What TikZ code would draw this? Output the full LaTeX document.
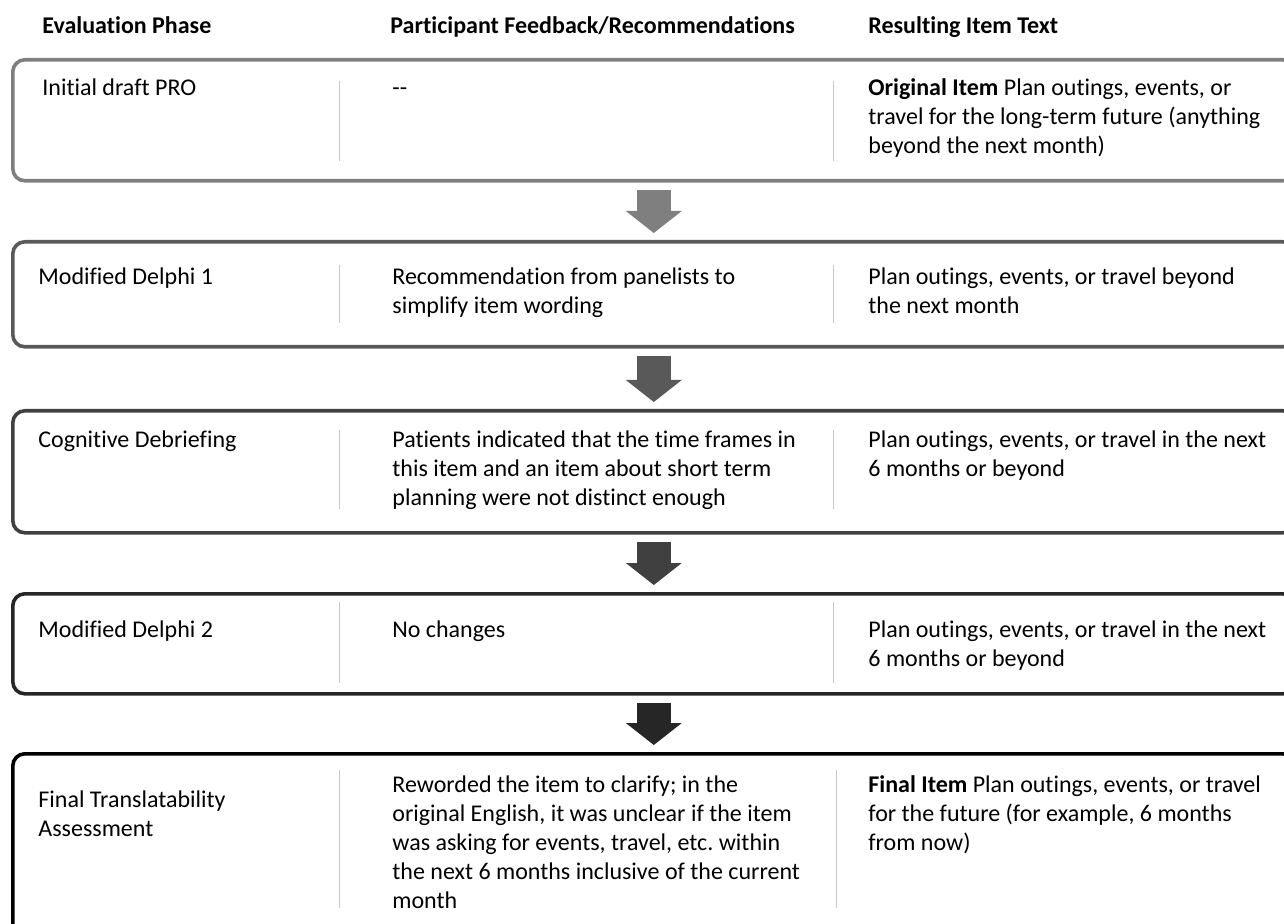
\documentclass[tikz,border=0pt]{standalone}
\usepackage{fontspec}
\setmainfont{Carlito}[Ligatures=NoCommon]
\usetikzlibrary{arrows.meta,positioning}

\definecolor{stepA}{HTML}{7F7F7F}
\definecolor{stepB}{HTML}{595959}
\definecolor{stepC}{HTML}{404040}
\definecolor{stepD}{HTML}{262626}
\definecolor{stepE}{HTML}{000000}
\definecolor{rule}{HTML}{C8C8C8}

\begin{document}
\frenchspacing
\begin{tikzpicture}[x=0.5pt,y=-0.5pt,
  rowbox/.style={draw, line width=1.8pt, rounded corners=6pt, anchor=north west,
    minimum width=641pt, inner sep=0pt},
  divider/.style={draw=rule, line width=0.5pt},
  txt/.style={anchor=base west, inner sep=0pt, align=left,
    font=\fontsize{12}{14.5}\selectfont},
  head/.style={txt, font=\fontsize{12}{14.5}\selectfont\bfseries},
  flow/.style={line width=17pt, shorten <=3.5pt, shorten >=3.5pt,
    -{Triangle[width=28pt,length=11pt,line width=0pt]}}]
\useasboundingbox (0,0) rectangle (1284,924);
\clip (0,0) rectangle (1284,924);

% column heads
\node[head] (h1) at (42,34) {Evaluation Phase};
\node[head] (h2) at (390,34) {Participant Feedback/Recommendations};
\node[head] (h3) at (868,34) {Resulting Item Text};

% phase boxes
\node[rowbox, draw=stepA, minimum height=60.5pt] (r1) at (11,58) {};
\node[rowbox, draw=stepB, minimum height=52.5pt] (r2) at (11,240) {};
\node[rowbox, draw=stepC, minimum height=61pt] (r3) at (11,409) {};
\node[rowbox, draw=stepD, minimum height=50pt] (r4) at (11,592) {};
\node[rowbox, draw=stepE, minimum height=94pt] (r5) at (11,752) {};

% dividers
\draw[divider] (339,81) -- (339,161);
\draw[divider] (833,81) -- (833,161);
\draw[divider] (339,265) -- (339,323);
\draw[divider] (833,265) -- (833,323);
\draw[divider] (339,430) -- (339,509);
\draw[divider] (833,430) -- (833,509);
\draw[divider] (339,602) -- (339,683);
\draw[divider] (833,602) -- (833,683);
\draw[divider] (339,770) -- (339,908);
\draw[divider] (836,770) -- (836,908);

% arrows
\draw[flow, draw=stepA] (r1.south) -- (r2.north);
\draw[flow, draw=stepB] (r2.south) -- (r3.north);
\draw[flow, draw=stepC] (r3.south) -- (r4.north);
\draw[flow, draw=stepD] (r4.south) -- (r5.north);

% box 1 (multi-line texts sit on their last line)
\node[txt] (p1) at (42,96) {Initial draft PRO};
\node[txt] (f1) at (392,96) {-{}-};
\node[txt] (t1) at (868,154) {\textbf{Original Item} Plan outings, events, or\\travel for the long-term future (anything\\beyond the next month)};
% box 2
\node[txt] (p2) at (38,285) {Modified Delphi 1};
\node[txt] (f2) at (392,314) {Recommendation from panelists to\\simplify item wording};
\node[txt] (t2) at (868,314) {Plan outings, events, or travel beyond\\the next month};
% box 3
\node[txt] (p3) at (38,448) {Cognitive Debriefing};
\node[txt] (f3) at (392,506) {Patients indicated that the time frames in\\this item and an item about short term\\planning were not distinct enough};
\node[txt] (t3) at (868,477) {Plan outings, events, or travel in the next\\6 months or beyond};
% box 4
\node[txt] (p4) at (38,637) {Modified Delphi 2};
\node[txt] (f4) at (392,637) {No changes};
\node[txt] (t4) at (868,666) {Plan outings, events, or travel in the next\\6 months or beyond};
% box 5
\node[txt] (p5) at (38,836) {Final Translatability\\Assessment};
\node[txt] (f5) at (392,908) {Reworded the item to clarify; in the\\original English, it was unclear if the item\\was asking for events, travel, etc. within\\the next 6 months inclusive of the current\\month};
\node[txt] (t5) at (868,850) {\textbf{Final Item} Plan outings, events, or travel\\for the future (for example, 6 months\\from now)};
\end{tikzpicture}
\end{document}
